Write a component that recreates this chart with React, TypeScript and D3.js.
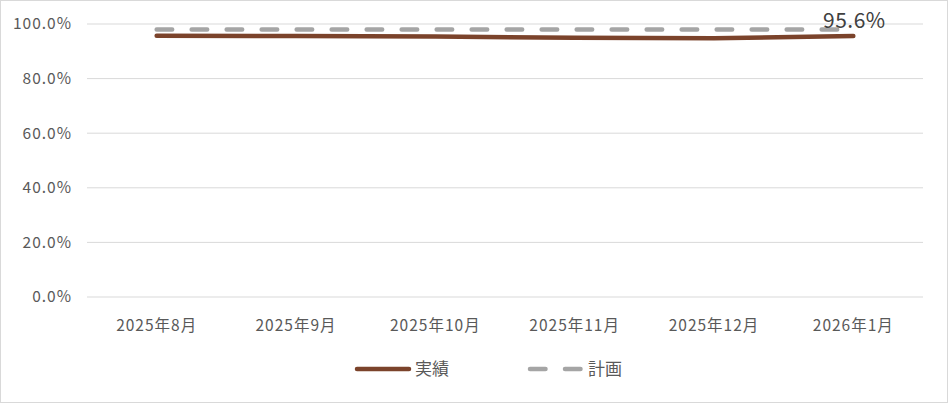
import React from "react";
import * as d3 from "d3";

const categories = ["2025年8月", "2025年9月", "2025年10月", "2025年11月", "2025年12月", "2026年1月"];
const actualValues = [95.7, 95.6, 95.4, 95.0, 94.8, 95.6];
const planValues = [98.0, 98.0, 98.0, 98.0, 98.0, 98.0];
const yTicks = [0, 20, 40, 60, 80, 100];
const seriesNames = ["実績", "計画"];

const W = 948;
const H = 403;
const FONT = "'Noto Sans CJK JP', 'Noto Sans', sans-serif";

export default function App() {
  React.useEffect(() => {
    document.body.style.margin = "0";
  }, []);
  const x = d3.scaleBand<string>().domain(categories).range([87, 923]);
  const y = d3.scaleLinear().domain([0, 100]).range([297, 24]);
  const cx = (c: string) => (x(c) ?? 0) + x.bandwidth() / 2;
  const line = d3
    .line<number>()
    .x((_, i) => cx(categories[i]))
    .y((v) => y(v));
  const lastI = categories.length - 1;
  return (
    <svg width={W} height={H} style={{ display: "block" }} fontFamily={FONT}>
      <rect x={0.5} y={0.5} width={W - 1} height={H - 1} fill="#fff" stroke="#d9d9d9" />
      {yTicks.map((t) => (
        <g key={t}>
          <line x1={87} x2={923} y1={y(t)} y2={y(t)} stroke="#d9d9d9" strokeWidth={1} />
          <text x={72} y={y(t)} dy="0.35em" textAnchor="end" fontSize={15.5} letterSpacing={1} fill="#595959">
            {t.toFixed(1) + "%"}
          </text>
        </g>
      ))}
      {categories.map((c) => (
        <text key={c} x={cx(c)} y={326} dy="0.35em" textAnchor="middle" fontSize={15.5} letterSpacing={1} fill="#595959">
          {c}
        </text>
      ))}
      <path
        d={line(planValues) ?? ""}
        fill="none"
        stroke="#a5a5a5"
        strokeWidth={4.5}
        strokeDasharray="15.5 19.5"
        strokeLinecap="round"
      />
      <path
        d={line(actualValues) ?? ""}
        fill="none"
        stroke="#7b432b"
        strokeWidth={4.5}
        strokeLinecap="round"
        strokeLinejoin="round"
      />
      <text x={cx(categories[lastI]) + 1} y={y(actualValues[lastI]) - 15} dy="0.35em" textAnchor="middle" fontSize={21} letterSpacing={0.5} fill="#404040">
        {actualValues[lastI].toFixed(1) + "%"}
      </text>
      <g>
        <line x1={357} x2={409} y1={369} y2={369} stroke="#7b432b" strokeWidth={4.5} strokeLinecap="round" />
        <text x={415} y={369} dy="0.35em" fontSize={17} fill="#595959">{seriesNames[0]}</text>
        <line x1={530} x2={582} y1={369} y2={369} stroke="#a5a5a5" strokeWidth={4.5} strokeDasharray="15.5 19.5" strokeLinecap="round" />
        <text x={588} y={369} dy="0.35em" fontSize={17} fill="#595959">{seriesNames[1]}</text>
      </g>
    </svg>
  );
}
